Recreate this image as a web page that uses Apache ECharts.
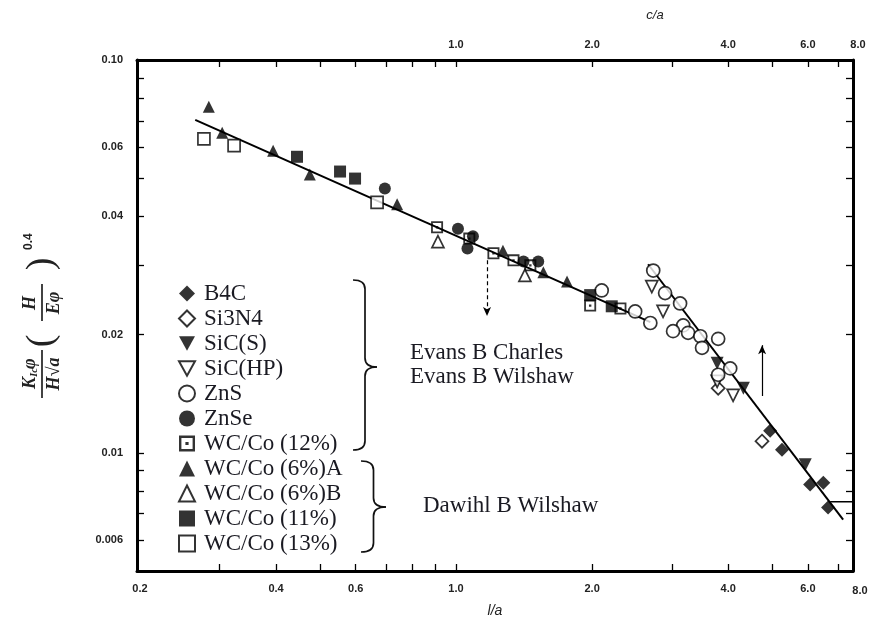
<!DOCTYPE html>
<html>
<head>
<meta charset="utf-8">
<script src="https://cdn.jsdelivr.net/npm/echarts@6/dist/echarts.min.js"></script>
<style>html,body{margin:0;padding:0;background:#fff}#c{width:869px;height:623px}</style>
</head>
<body>
<div id="c"></div>
<script>
// ---- data: [l/a, K_Ic φ/(H√a)(H/Eφ)^0.4] ----
const b4c   = [[4.95,0.01137],[5.26,0.01018],[6.07,0.0083],[6.49,0.00839],[6.65,0.00725]];
const si3n4 = [[3.80,0.0146],[4.75,0.0107]];
const sicS  = [[3.78,0.0169],[4.32,0.0146],[5.92,0.00932]];
const sicHP = [[2.71,0.0265],[2.87,0.0229],[3.78,0.0152],[4.10,0.0140]];
const zns   = [[2.10,0.0259],[2.49,0.0229],[2.69,0.0214],[2.73,0.0291],[2.90,0.0255],[3.13,0.0240],[3.18,0.0211],[3.02,0.0204],[3.26,0.0202],[3.47,0.0198],[3.80,0.0195],[3.50,0.0185],[4.04,0.0164],[3.80,0.0158]];
const znse  = [[0.696,0.0471],[1.01,0.0372],[1.09,0.0356],[1.06,0.0331],[1.41,0.0307],[1.52,0.0307]];
const wc12  = [[0.908,0.0375],[1.07,0.0351],[1.21,0.0322],[1.34,0.0309],[1.46,0.0300],[1.98,0.0237],[2.31,0.0233]];
const wc6A  = [[0.284,0.076],[0.304,0.0653],[0.394,0.0587],[0.475,0.0511],[0.741,0.0429],[1.27,0.0327],[1.56,0.0288],[1.76,0.0273]];
const wc6B  = [[0.912,0.0345],[1.42,0.0283]];
const wc11  = [[0.445,0.0567],[0.554,0.052],[0.598,0.0499],[1.98,0.0252],[2.21,0.0236]];
const wc13  = [[0.277,0.063],[0.323,0.0605],[0.669,0.0434]];
const fitLine1 = [[0.265,0.0704],[2.69,0.0215]];
const fitLine2 = [[2.66,0.0302],[7.18,0.00676]];
const errBar   = [[6.72,0.0075],[7.55,0.0075]];
const arrowDown = [[1.171,0.0309],[1.171,0.0223]];
const arrowUp   = [[4.753,0.01395],[4.753,0.01879]];

const xRange = [0.197, 7.55];
const yRange = [0.005, 0.1];
const xBottomLabelVals = [0.2,0.4,0.6,1,2,4,6];
const xBottomLabels = ['0.2','0.4','0.6','1.0','2.0','4.0','6.0'];
const xTopLabelVals = [1,2,4,6];
const xTopLabels = ['1.0','2.0','4.0','6.0'];
const xTickVals = [0.3,0.4,0.5,0.6,0.7,0.8,0.9,1,2,3,4,5,6,7];
const yLabelVals = [0.1,0.06,0.04,0.02,0.01,0.006];
const yLabels = ['0.10','0.06','0.04','0.02','0.01','0.006'];
const yTickVals = [0.006,0.007,0.008,0.009,0.01,0.02,0.03,0.04,0.05,0.06,0.07,0.08,0.09];
const legendNames = ['B4C','Si3N4','SiC(S)','SiC(HP)','ZnS','ZnSe','WC/Co (12%)','WC/Co (6%)A','WC/Co (6%)B','WC/Co (11%)','WC/Co (13%)'];

const L = Math.log10;
const tr = arr => arr.map(p => [L(p[0]), L(p[1])]);
function lookup(vals, labels){
  return function(v){
    let best = 0, bd = 1e9;
    vals.forEach((x,i)=>{ const d = Math.abs(L(x)-v); if(d<bd){bd=d;best=i;} });
    return labels[best];
  };
}
const serif = '"Liberation Serif","Times New Roman",serif';
const sans = '"Liberation Sans",Arial,sans-serif';
const lblStyle = {color:'#222', fontSize:11, fontWeight:'bold', fontFamily:sans};
const frame = {show:true, onZero:false, lineStyle:{color:'#000', width:3}};
const tick = {show:true, inside:true, length:7, lineStyle:{color:'#000', width:1.3}};

const DOWN = 'path://M0,0L20,0L10,18Z';
const DSQ = 'path://M0,0L20,0L20,20L0,20Z M3,3L3,17L17,17L17,3Z M8,8L12,8L12,12L8,12Z';
const filled = {color:'#000'};
const hollow = {color:'#fff', borderColor:'#000', borderWidth:1.7};

function sc(name, data, symbol, style, size){
  return {name, type:'scatter', data:tr(data), symbol, symbolSize:size||12, itemStyle:style, z:3};
}
const series = [
  {type:'line', data:tr(fitLine1), symbol:'none', lineStyle:{color:'#000', width:2}, silent:true, z:2},
  {type:'line', data:tr(fitLine2), symbol:'none', lineStyle:{color:'#000', width:2}, silent:true, z:2},
  {type:'line', data:tr(errBar), symbol:'none', lineStyle:{color:'#000', width:1.5}, silent:true, z:2},
  sc('B4C', b4c, 'diamond', filled, 14),
  sc('Si3N4', si3n4, 'diamond', hollow, 13),
  sc('SiC(S)', sicS, DOWN, filled, 13),
  sc('SiC(HP)', sicHP, DOWN, hollow, 12),
  sc('ZnS', zns, 'circle', hollow, 13),
  sc('ZnSe', znse, 'circle', filled, 12),
  sc('WC/Co (12%)', wc12, DSQ, filled, 12),
  sc('WC/Co (6%)A', wc6A, 'triangle', filled, 12),
  sc('WC/Co (6%)B', wc6B, 'triangle', hollow, 12),
  sc('WC/Co (11%)', wc11, 'rect', filled, 12),
  sc('WC/Co (13%)', wc13, 'rect', hollow, 12),
  {type:'scatter', data:[], silent:true,
   markLine:{silent:true, symbol:['none','arrow'], symbolSize:[6,9], label:{show:false},
     data:[
       [{coord:tr(arrowDown)[0], lineStyle:{type:[4,3], color:'#000', width:1.2}}, {coord:tr(arrowDown)[1]}],
       [{coord:tr(arrowUp)[0], lineStyle:{type:'solid', color:'#000', width:1.2}}, {coord:tr(arrowUp)[1]}]
     ]}}
];

function brace(x0, yT, yB, w, ym){
  const h = x0 + w/2, r = 9;
  const st = {stroke:'#111', fill:null, lineWidth:1.7};
  const bz = (x1,y1,cx,cy,x2,y2) => ({type:'bezierCurve', shape:{x1,y1,x2,y2,cpx1:cx,cpy1:cy}, style:st});
  const ln = (x1,y1,x2,y2) => ({type:'line', shape:{x1,y1,x2,y2}, style:st});
  return {type:'group', children:[
    bz(x0,yT,h,yT,h,yT+r), ln(h,yT+r,h,ym-r), bz(h,ym-r,h,ym,x0+w,ym),
    bz(x0+w,ym,h,ym,h,ym+r), ln(h,ym+r,h,yB-r), bz(h,yB-r,h,yB,x0,yB)
  ]};
}
const fT = (t,x,y,font) => ({type:'text', x, y, style:{text:t, font, fill:'#1a1a22', align:'left', verticalAlign:'middle'}});
const ff = 'italic bold 18px ' + serif;
const tx = (t,x,y,font,align) => ({type:'text', x, y, style:{text:t, font, fill:'#222', align:align||'center', verticalAlign:'middle'}});
const graphic = [
  {type:'text', x:655, y:15, style:{text:'c/a', font:'italic 13px '+sans, fill:'#222', align:'center', verticalAlign:'middle'}},
  {type:'text', x:860, y:591, style:{text:'8.0', font:'bold 11px '+sans, fill:'#222', align:'center', verticalAlign:'middle'}},
  {type:'text', x:858, y:45, style:{text:'8.0', font:'bold 11px '+sans, fill:'#222', align:'center', verticalAlign:'middle'}},
  fT('Evans B Charles', 410, 353, '23px '+serif),
  fT('Evans B Wilshaw', 410, 377, '23px '+serif),
  fT('Dawihl B Wilshaw', 423, 506, '23px '+serif),
  brace(353,280,450,24,367),
  brace(361,461,552,25,507),
  {type:'group', x:42, y:318, rotation:Math.PI/2, children:[
    tx('K', -71, -12, ff, 'left'),
    tx('Ic', -59, -8, 'italic bold 11px '+serif, 'left'),
    tx('φ', -51, -12, ff, 'left'),
    {type:'line', shape:{x1:-80, y1:0, x2:-32, y2:0}, style:{stroke:'#222', lineWidth:1.7}},
    tx('H√a', -56, 12, ff),
    tx('(', -23, 0, '38px '+serif),
    tx('H', 15, -12, ff),
    {type:'line', shape:{x1:-3, y1:0, x2:34, y2:0}, style:{stroke:'#222', lineWidth:1.7}},
    tx('Eφ', 15, 12, ff),
    tx(')', 54, 0, '38px '+serif),
    tx('0.4', 68, -13, 'bold 12px '+sans, 'left')
  ]}
];

const option = {
  animation:false,
  backgroundColor:'#fff',
  grid:{left:137, right:16, top:60, bottom:50, containLabel:false},
  legend:{orient:'vertical', left:173, top:276, itemWidth:16, itemHeight:16, itemGap:0,
    data:legendNames,
    textStyle:{fontFamily:serif, fontSize:23, color:'#1a1a22', lineHeight:25, padding:[0,0,0,4]}, selectedMode:false},
  xAxis:[
    {type:'value', position:'bottom', min:L(xRange[0]), max:L(xRange[1]),
     name:'l/a', nameLocation:'middle', nameGap:33, nameTextStyle:{fontFamily:sans, fontStyle:'italic', fontSize:14, color:'#222'},
     axisLine:frame, axisTick:Object.assign({customValues:xTickVals.map(L)}, tick),
     axisLabel:{customValues:xBottomLabelVals.map(L), formatter:lookup(xBottomLabelVals,xBottomLabels), margin:12, ...lblStyle},
     splitLine:{show:false}},
    {type:'value', position:'top', min:L(xRange[0]), max:L(xRange[1]),
     axisLine:frame, axisTick:Object.assign({customValues:xTickVals.map(L)}, tick),
     axisLabel:{customValues:xTopLabelVals.map(L), formatter:lookup(xTopLabelVals,xTopLabels), margin:10, ...lblStyle},
     splitLine:{show:false}}
  ],
  yAxis:[
    {type:'value', position:'left', min:L(yRange[0]), max:L(yRange[1]),
     axisLine:frame, axisTick:Object.assign({customValues:yTickVals.map(L)}, tick),
     axisLabel:{customValues:yLabelVals.map(L), formatter:lookup(yLabelVals,yLabels), margin:14, ...lblStyle},
     splitLine:{show:false}},
    {type:'value', position:'right', min:L(yRange[0]), max:L(yRange[1]),
     axisLine:frame, axisTick:Object.assign({customValues:yTickVals.map(L)}, tick),
     axisLabel:{show:false}, splitLine:{show:false}}
  ],
  series,
  graphic
};
const chart = echarts.init(document.getElementById('c'), null, {renderer:'canvas'});
chart.setOption(option);
</script>
</body>
</html>
